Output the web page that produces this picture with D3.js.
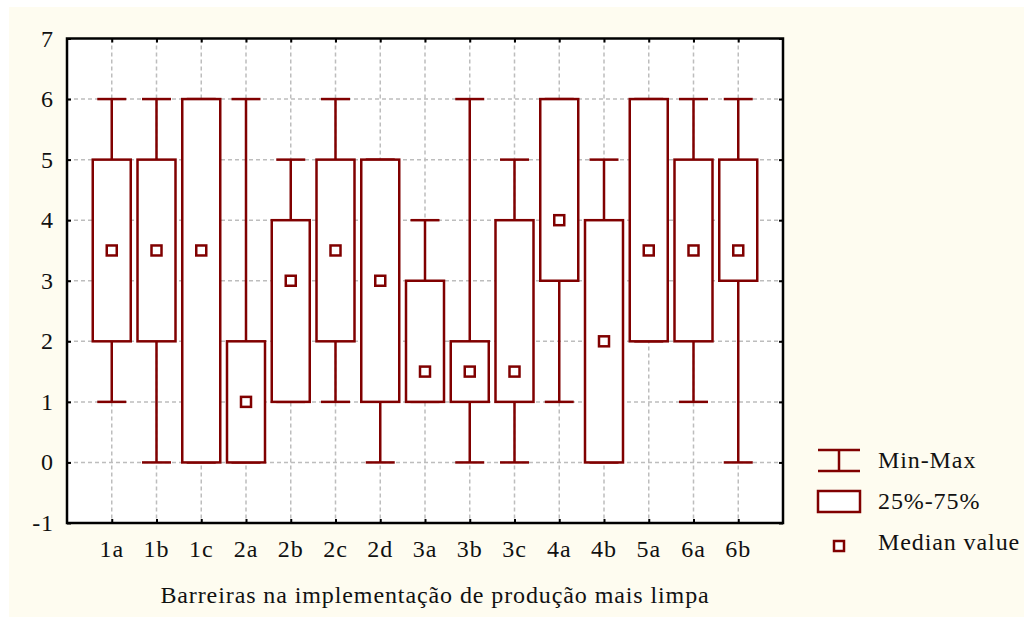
<!DOCTYPE html>
<html>
<head>
<meta charset="utf-8">
<script src="https://cdnjs.cloudflare.com/ajax/libs/d3/7.8.5/d3.min.js"></script>
<style>
    body { margin: 0; background: #ffffff; }
    svg text { font-family: "Liberation Serif", "Times New Roman", serif; fill: #111; font-size: 24px; letter-spacing: 0.9px; }
</style>
</head>
<body>
<svg id="chart" width="1024" height="617"></svg>
<script>
    // data
    var categories = ["1a", "1b", "1c", "2a", "2b", "2c", "2d", "3a", "3b", "3c", "4a", "4b", "5a", "6a", "6b"];
    var minVals    = [1, 0, 0, 0, 1, 1, 0, 1, 0, 0, 1, 0, 2, 1, 0];
    var q1Vals     = [2, 2, 0, 0, 1, 2, 1, 1, 1, 1, 3, 0, 2, 2, 3];
    var medianVals = [3.5, 3.5, 3.5, 1, 3, 3.5, 3, 1.5, 1.5, 1.5, 4, 2, 3.5, 3.5, 3.5];
    var q3Vals     = [5, 5, 6, 2, 4, 5, 5, 3, 2, 4, 6, 4, 6, 5, 5];
    var maxVals    = [6, 6, 6, 6, 5, 6, 5, 4, 6, 5, 6, 5, 6, 6, 6];
    var yTicks     = [-1, 0, 1, 2, 3, 4, 5, 6, 7];
    var legendLabels = ["Min-Max", "25%-75%", "Median value"];
    var xTitle = "Barreiras na implementação de produção mais limpa";

    var red = "#800000";
    var svg = d3.select("#chart");

    svg.append("rect")
        .attr("x", 9).attr("y", 7)
        .attr("width", 1015).attr("height", 610)
        .attr("fill", "#fefcf0");

    var pLeft = 67, pTop = 38.5, pRight = 783, pBottom = 523;

    var x = d3.scalePoint()
        .domain(categories)
        .range([pLeft, pRight])
        .padding(1);

    var y = d3.scaleLinear()
        .domain([-1, 7])
        .range([pBottom, pTop]);

    svg.append("rect")
        .attr("x", pLeft).attr("y", pTop)
        .attr("width", pRight - pLeft).attr("height", pBottom - pTop)
        .attr("fill", "#ffffff");

    // grid
    svg.append("g").selectAll("line")
        .data(yTicks.slice(1, -1))
        .enter().append("line")
        .attr("x1", pLeft).attr("x2", pRight)
        .attr("y1", function(d) { return y(d); })
        .attr("y2", function(d) { return y(d); })
        .attr("stroke", "#bdbdbd")
        .attr("stroke-width", 1.5)
        .attr("stroke-dasharray", "4,3");

    svg.append("g").selectAll("line")
        .data(categories)
        .enter().append("line")
        .attr("x1", function(d) { return x(d); })
        .attr("x2", function(d) { return x(d); })
        .attr("y1", pTop).attr("y2", pBottom)
        .attr("stroke", "#bdbdbd")
        .attr("stroke-width", 1.5)
        .attr("stroke-dasharray", "4,3");

    // axes (ticks pointing inward, on all four sides)
    var axisL = svg.append("g")
        .attr("transform", "translate(" + pLeft + ",0)")
        .call(d3.axisRight(y).tickValues(yTicks).tickSize(4).tickFormat(""));
    var axisR = svg.append("g")
        .attr("transform", "translate(" + pRight + ",0)")
        .call(d3.axisLeft(y).tickValues(yTicks).tickSize(4).tickFormat(""));
    var axisT = svg.append("g")
        .attr("transform", "translate(0," + pTop + ")")
        .call(d3.axisBottom(x).tickSize(4).tickFormat(""));
    var axisB = svg.append("g")
        .attr("transform", "translate(0," + pBottom + ")")
        .call(d3.axisTop(x).tickSize(4).tickFormat(""));

    [axisL, axisR, axisT, axisB].forEach(function(a) {
        a.select(".domain").remove();
        a.selectAll(".tick line").attr("stroke", "#000").attr("stroke-width", 2);
    });

    svg.append("rect")
        .attr("x", pLeft).attr("y", pTop)
        .attr("width", pRight - pLeft).attr("height", pBottom - pTop)
        .attr("fill", "none")
        .attr("stroke", "#000")
        .attr("stroke-width", 2.5);

    // tick labels
    svg.append("g").selectAll("text")
        .data(yTicks)
        .enter().append("text")
        .attr("x", 54)
        .attr("y", function(d) { return y(d) + 8; })
        .attr("text-anchor", "end")
        .text(function(d) { return d; });

    svg.append("g").selectAll("text")
        .data(categories)
        .enter().append("text")
        .attr("x", function(d) { return x(d); })
        .attr("y", 557)
        .attr("text-anchor", "middle")
        .text(function(d) { return d; });

    svg.append("text")
        .attr("x", 435).attr("y", 603)
        .attr("text-anchor", "middle")
        .text(xTitle);

    // boxes
    var boxW = 38, capW = 29, medS = 10;
    var rows = categories.map(function(c, i) {
        return { cat: c, min: minVals[i], q1: q1Vals[i], med: medianVals[i], q3: q3Vals[i], max: maxVals[i] };
    });

    var g = svg.append("g").selectAll("g")
        .data(rows)
        .enter().append("g");

    g.append("line")
        .attr("x1", function(d) { return x(d.cat); })
        .attr("x2", function(d) { return x(d.cat); })
        .attr("y1", function(d) { return y(d.min); })
        .attr("y2", function(d) { return y(d.max); })
        .attr("stroke", red).attr("stroke-width", 2.5);

    g.append("line")
        .attr("x1", function(d) { return x(d.cat) - capW / 2; })
        .attr("x2", function(d) { return x(d.cat) + capW / 2; })
        .attr("y1", function(d) { return y(d.min); })
        .attr("y2", function(d) { return y(d.min); })
        .attr("stroke", red).attr("stroke-width", 2.5);

    g.append("line")
        .attr("x1", function(d) { return x(d.cat) - capW / 2; })
        .attr("x2", function(d) { return x(d.cat) + capW / 2; })
        .attr("y1", function(d) { return y(d.max); })
        .attr("y2", function(d) { return y(d.max); })
        .attr("stroke", red).attr("stroke-width", 2.5);

    g.append("rect")
        .attr("x", function(d) { return x(d.cat) - boxW / 2; })
        .attr("y", function(d) { return y(d.q3); })
        .attr("width", boxW)
        .attr("height", function(d) { return y(d.q1) - y(d.q3); })
        .attr("fill", "#ffffff")
        .attr("stroke", red).attr("stroke-width", 2.5);

    g.append("rect")
        .attr("x", function(d) { return x(d.cat) - medS / 2; })
        .attr("y", function(d) { return y(d.med) - medS / 2; })
        .attr("width", medS).attr("height", medS)
        .attr("fill", "#ffffff")
        .attr("stroke", red).attr("stroke-width", 2.5);

    // legend
    var lg = svg.append("g");
    lg.append("line").attr("x1", 818).attr("x2", 860).attr("y1", 450).attr("y2", 450)
        .attr("stroke", red).attr("stroke-width", 2.5);
    lg.append("line").attr("x1", 818).attr("x2", 860).attr("y1", 471).attr("y2", 471)
        .attr("stroke", red).attr("stroke-width", 2.5);
    lg.append("line").attr("x1", 839).attr("x2", 839).attr("y1", 450).attr("y2", 471)
        .attr("stroke", red).attr("stroke-width", 2.5);
    lg.append("rect").attr("x", 818).attr("y", 491).attr("width", 42).attr("height", 21)
        .attr("fill", "#ffffff").attr("stroke", red).attr("stroke-width", 2.5);
    lg.append("rect").attr("x", 834).attr("y", 541).attr("width", medS).attr("height", medS)
        .attr("fill", "#ffffff").attr("stroke", red).attr("stroke-width", 2.5);

    lg.selectAll("text")
        .data(legendLabels)
        .enter().append("text")
        .attr("x", 878)
        .attr("y", function(d, i) { return 468 + i * 41; })
        .text(function(d) { return d; });
</script>
</body>
</html>
